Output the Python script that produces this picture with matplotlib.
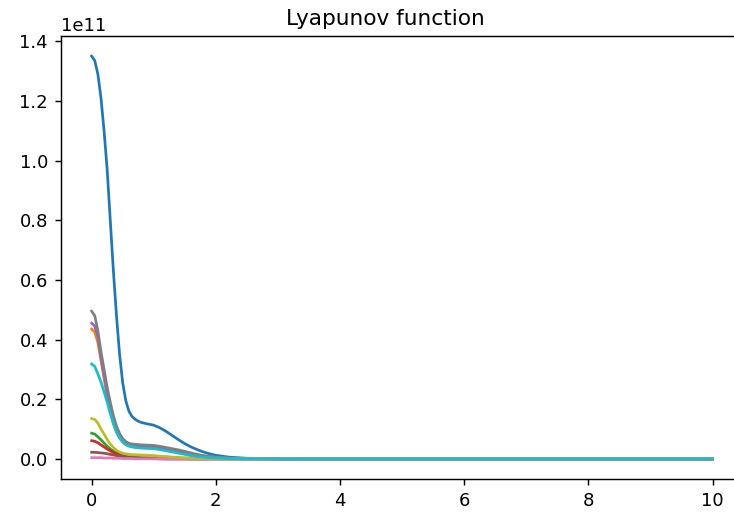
import matplotlib
matplotlib.use("Agg")
import matplotlib.pyplot as plt
import numpy as np

# time grid (s) and Lyapunov values for each trajectory, in units of 1e11
t = [0, 0.05, 0.1, 0.15, 0.2, 0.25, 0.3, 0.35, 0.4, 0.45, 0.5, 0.55, 0.6, 0.65, 0.7, 0.75, 0.8,
     0.9, 1.0, 1.1, 1.2, 1.3, 1.4, 1.5, 1.6, 1.7, 1.8, 1.9, 2.0,
     2.2, 2.5, 3.0, 10.0]

v_blue = [1.350, 1.335, 1.290, 1.210, 1.100, 0.970, 0.800, 0.630, 0.480, 0.350, 0.255, 0.195, 0.160, 0.142, 0.133, 0.126, 0.122,
          0.117, 0.113, 0.104, 0.092, 0.078, 0.064, 0.051, 0.040, 0.031, 0.023, 0.017, 0.012,
          0.006, 0.002, 0.0003, 0.0]
v_orange = [0.435, 0.425, 0.390, 0.330, 0.270, 0.210, 0.160, 0.120, 0.090, 0.070, 0.056, 0.048, 0.043, 0.041, 0.040, 0.039, 0.038,
            0.037, 0.036, 0.033, 0.030, 0.026, 0.022, 0.018, 0.014, 0.011, 0.008, 0.006, 0.004,
            0.002, 0.001, 0.0, 0.0]
v_green = [0.086, 0.083, 0.074, 0.064, 0.053, 0.042, 0.033, 0.026, 0.020, 0.015, 0.011, 0.009, 0.007, 0.006, 0.005, 0.005, 0.004,
           0.004, 0.003, 0.003, 0.002, 0.002, 0.001, 0.001, 0.0, 0.0, 0.0, 0.0, 0.0,
           0.0, 0.0, 0.0, 0.0]
v_red = [0.061, 0.059, 0.054, 0.047, 0.040, 0.033, 0.027, 0.021, 0.017, 0.012, 0.009, 0.006, 0.005, 0.004, 0.003, 0.003, 0.002,
         0.002, 0.001, 0.001, 0.0, 0.0, 0.0, 0.0, 0.0, 0.0, 0.0, 0.0, 0.0,
         0.0, 0.0, 0.0, 0.0]
v_purple = [0.455, 0.445, 0.410, 0.340, 0.280, 0.220, 0.170, 0.130, 0.100, 0.078, 0.062, 0.053, 0.048, 0.046, 0.045, 0.044, 0.043,
            0.042, 0.041, 0.038, 0.034, 0.030, 0.026, 0.021, 0.017, 0.013, 0.009, 0.007, 0.005,
            0.002, 0.001, 0.0, 0.0]
v_brown = [0.022, 0.022, 0.021, 0.020, 0.019, 0.017, 0.015, 0.013, 0.011, 0.009, 0.007, 0.005, 0.004, 0.003, 0.002, 0.002, 0.001,
           0.001, 0.001, 0.0, 0.0, 0.0, 0.0, 0.0, 0.0, 0.0, 0.0, 0.0, 0.0,
           0.0, 0.0, 0.0, 0.0]
v_pink = [0.004, 0.004, 0.004, 0.004, 0.003, 0.003, 0.003, 0.002, 0.002, 0.002, 0.001, 0.001, 0.001, 0.001, 0.0, 0.0, 0.0,
          0.0, 0.0, 0.0, 0.0, 0.0, 0.0, 0.0, 0.0, 0.0, 0.0, 0.0, 0.0,
          0.0, 0.0, 0.0, 0.0]
v_gray = [0.495, 0.480, 0.430, 0.360, 0.300, 0.240, 0.190, 0.145, 0.110, 0.085, 0.068, 0.058, 0.052, 0.050, 0.049, 0.048, 0.047,
          0.046, 0.045, 0.042, 0.038, 0.034, 0.030, 0.025, 0.020, 0.015, 0.011, 0.008, 0.006,
          0.003, 0.001, 0.0, 0.0]
v_olive = [0.135, 0.132, 0.120, 0.100, 0.083, 0.065, 0.050, 0.038, 0.029, 0.023, 0.019, 0.017, 0.015, 0.014, 0.014, 0.013, 0.013,
           0.012, 0.011, 0.009, 0.008, 0.006, 0.005, 0.004, 0.003, 0.002, 0.002, 0.001, 0.001,
           0.0, 0.0, 0.0, 0.0]
v_cyan = [0.318, 0.310, 0.285, 0.258, 0.225, 0.190, 0.152, 0.118, 0.090, 0.070, 0.057, 0.048, 0.043, 0.040, 0.038, 0.037, 0.036,
          0.035, 0.034, 0.031, 0.027, 0.023, 0.019, 0.015, 0.011, 0.008, 0.006, 0.004, 0.003,
          0.001, 0.0, 0.0, 0.0]

series = [v_blue, v_orange, v_green, v_red, v_purple,
          v_brown, v_pink, v_gray, v_olive, v_cyan]

dpi = 130
fig = plt.figure(figsize=(734 / dpi, 515 / dpi), dpi=dpi)
# axes runs a little past the right edge, as in the cropped original
ax = fig.add_axes([60.6 / 734, 36 / 515, 683 / 734, 443 / 515])
for v in series:
    ax.plot(t, np.array(v) * 1e11)
ax.spines["right"].set_visible(False)  # cropped away in the original
# title sits centred on the uncropped figure, not the axes
ax.set_title("Lyapunov function", x=0.476)
fig.savefig("out.png", dpi=dpi)
